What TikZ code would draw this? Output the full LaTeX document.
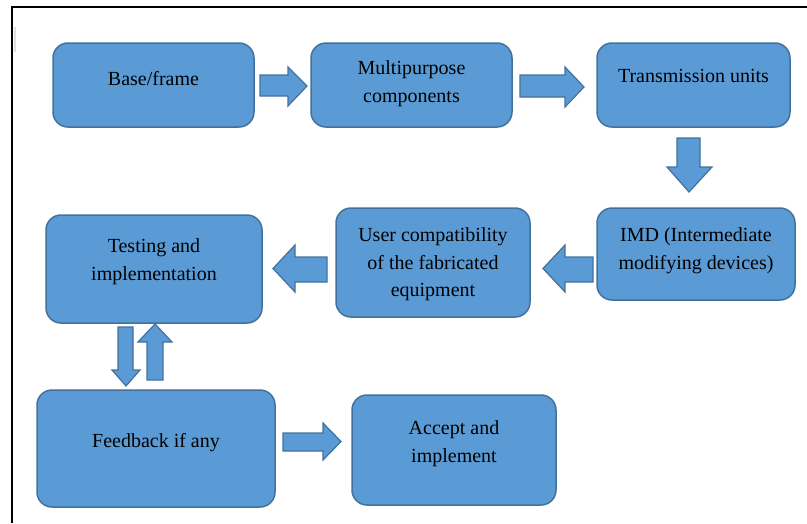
\documentclass[tikz,border=0pt]{standalone}
\usepackage{fontspec}
\setmainfont{Liberation Serif}
\definecolor{boxfill}{HTML}{5B9BD5}
\definecolor{boxline}{HTML}{41719C}
\begin{document}
\begin{tikzpicture}[x=1pt,y=-1pt,
  box/.style={draw=boxline, fill=boxfill, line width=1.5pt, rounded corners=15pt, inner sep=0pt, outer sep=0pt},
  txt/.style={anchor=north, inner sep=0pt, align=center, font=\fontsize{20}{27.5}\selectfont},
  blockarrow/.style={draw=boxline, fill=boxfill, line width=1.2pt, line join=miter}]
\useasboundingbox (0,0) rectangle (807,523);
% frame
\draw[line width=2pt] (12,523) -- (12,7) -- (807,7);
\draw[gray!25, line width=2pt] (15,27) -- (15,52);
% boxes
\node[box, minimum width=201pt, minimum height=84pt] (b1) at (153.5,85) {};
\node[box, minimum width=201pt, minimum height=84pt] (b2) at (411.5,85) {};
\node[box, minimum width=193pt, minimum height=84pt] (b3) at (693.5,85) {};
\node[box, minimum width=198pt, minimum height=92pt] (b4) at (696,254) {};
\node[box, minimum width=194pt, minimum height=109pt] (b5) at (433,262.5) {};
\node[box, minimum width=216pt, minimum height=108pt] (b6) at (154,269) {};
\node[box, minimum width=238pt, minimum height=117pt] (b7) at (156,448.5) {};
\node[box, minimum width=204pt, minimum height=110pt] (b8) at (454,450) {};
% texts
\node[txt] (t1) at (153.5,66.4) {Base/frame\strut};
\node[txt] (t2) at (411.5,55.4) {Multipurpose\strut\\components\strut};
\node[txt] (t3) at (693.5,63.4) {Transmission units\strut};
\node[txt] (t4) at (696,222.4) {IMD (Intermediate\strut\\modifying devices)\strut};
\node[txt] (t5) at (433,222.4) {User compatibility\strut\\of the fabricated\strut\\equipment\strut};
\node[txt] (t6) at (154,233.4) {Testing and\strut\\implementation\strut};
\node[txt] (t7) at (156,428.4) {Feedback if any\strut};
\node[txt] (t8) at (454,415.4) {Accept and\strut\\implement\strut};
% block arrows
\draw[blockarrow] (260,75) -- (288,75) -- (288,67) -- (307,86) -- (288,106) -- (288,96) -- (260,96) -- cycle;
\draw[blockarrow] (520,75) -- (565,75) -- (565,67) -- (584,87) -- (565,107) -- (565,97) -- (520,97) -- cycle;
\draw[blockarrow] (677,138) -- (700,138) -- (700,167) -- (712,167) -- (689,192) -- (667,167) -- (677,167) -- cycle;
\draw[blockarrow] (593,257) -- (565,257) -- (565,245) -- (543,268.5) -- (565,292) -- (565,282) -- (593,282) -- cycle;
\draw[blockarrow] (327,257) -- (295,257) -- (295,245) -- (273,268.5) -- (295,292) -- (295,282) -- (327,282) -- cycle;
\draw[blockarrow] (118,327) -- (133,327) -- (133,370) -- (140,370) -- (126,386) -- (112,370) -- (118,370) -- cycle;
\draw[blockarrow] (147,380) -- (163,380) -- (163,342) -- (172,342) -- (155,324) -- (138,342) -- (147,342) -- cycle;
\draw[blockarrow] (283,433) -- (323,433) -- (323,423) -- (341,441.5) -- (323,460) -- (323,451) -- (283,451) -- cycle;
\end{tikzpicture}
\end{document}
